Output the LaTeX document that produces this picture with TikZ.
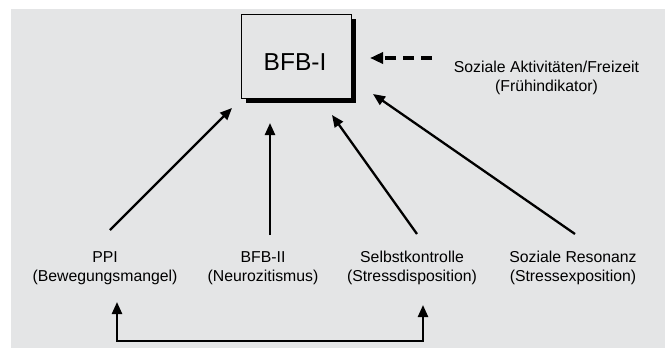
\documentclass[tikz,border=0pt]{standalone}
\usepackage{fontspec}
\setmainfont{Liberation Sans}
\usetikzlibrary{arrows.meta}
\definecolor{bggray}{HTML}{E4E5E6}
\begin{document}
\begin{tikzpicture}[x=1pt,y=-1pt,
  lbl/.style={align=center,font=\fontsize{15.8}{19.5}\selectfont,inner sep=0pt},
  arr/.style={line width=2.3pt,-{Triangle[length=12pt,width=10pt]}},
  darr/.style={line width=3.5pt,dash pattern=on 11pt off 7pt,-{Triangle[length=13pt,width=11pt]}},
  barr/.style={line width=2.3pt,{Triangle[length=12pt,width=10pt]}-{Triangle[length=12pt,width=10pt]}}]
\useasboundingbox[fill=white] (0,0) rectangle (665,348);
\fill[bggray] (11,9) rectangle (665,348);
% box with shadow
\fill[black] (246,19) rectangle (356,103);
\node[draw,line width=0.8pt,fill=bggray,minimum width=110pt,minimum height=84pt,inner sep=0pt] (box) at (296,56) {};
\node[font=\fontsize{24.5}{28}\selectfont,inner sep=0pt] (boxtxt) at (295,62.5) {BFB-I};
% labels
\node[lbl] (soz) at (546.5,78) {Soziale Aktivitäten/Freizeit\\(Frühindikator)};
\node[lbl] (ppi) at (105,268) {PPI\\(Bewegungsmangel)};
\node[lbl] (bfb2) at (263,268) {BFB-II\\(Neurozitismus)};
\node[lbl] (selb) at (412,268) {Selbstkontrolle\\(Stressdisposition)};
\node[lbl] (res) at (573,268) {Soziale Resonanz\\(Stressexposition)};
% connector ends
\coordinate (t1) at (110,230); \coordinate (h1) at (232,108);
\coordinate (t2) at (270,235); \coordinate (h2) at (270,123);
\coordinate (t3) at (417,234); \coordinate (h3) at (332,115);
\coordinate (t4) at (575,234); \coordinate (h4) at (373,94);
\coordinate (td) at (432,58); \coordinate (hd) at (370,58);
\coordinate (b1) at (117,302); \coordinate (b2) at (423,305);
\coordinate (bl) at (117,341); \coordinate (br) at (423,341);
\draw[arr] (t1) -- (h1);
\draw[arr] (t2) -- (h2);
\draw[arr] (t3) -- (h3);
\draw[arr] (t4) -- (h4);
\draw[darr] (td) -- (hd);
\draw[barr] (b1) -- (bl) -- (br) -- (b2);
\end{tikzpicture}
\end{document}
